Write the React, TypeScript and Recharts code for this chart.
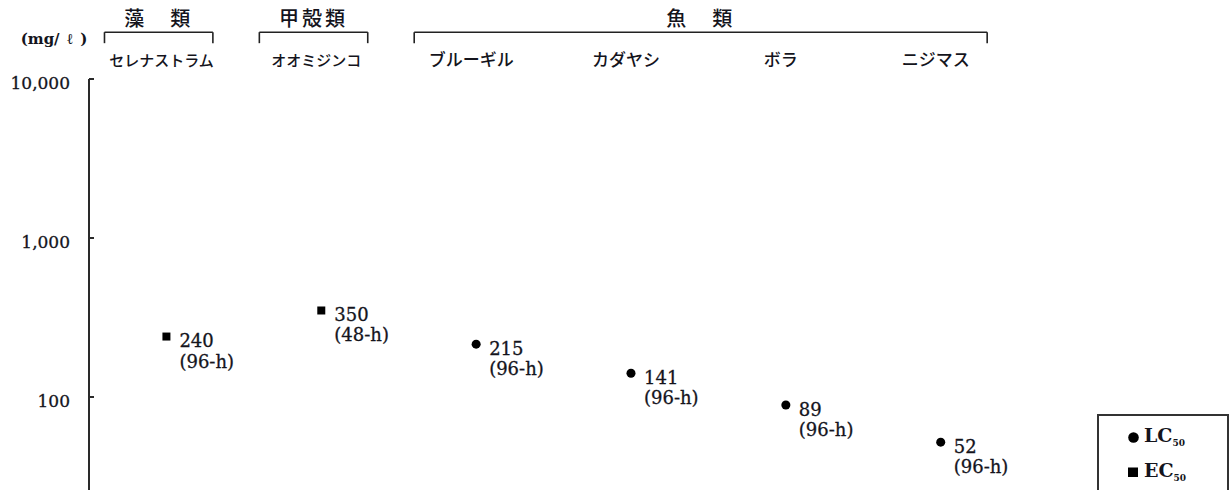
import React from 'react';
import { ScatterChart, Scatter, XAxis, YAxis, ZAxis, ReferenceLine, LabelList, Legend } from 'recharts';

// ---------- data ----------
const SPECIES = ['セレナストラム', 'オオミジンコ', 'ブルーギル', 'カダヤシ', 'ボラ', 'ニジマス'];
const VALUES = [240, 350, 215, 141, 89, 52];
const DURATIONS = ['96-h', '48-h', '96-h', '96-h', '96-h', '96-h'];
const ENDPOINTS = ['EC50', 'EC50', 'LC50', 'LC50', 'LC50', 'LC50'];
const GROUP_NAMES = ['藻　類', '甲殻類', '魚　類'];
const GROUP_FIRST = [1, 2, 3];
const GROUP_LAST = [1, 2, 6];
const Y_TICKS = [100, 1000, 10000];
const X_TICKS = [1, 2, 3, 4, 5, 6];
const SERIES = [
  { name: 'LC50', shape: 'circle' },
  { name: 'EC50', shape: 'square' },
];
const UNIT = '(mg/\u2002ℓ\u2002)';

const rows = SPECIES.map((s, i) => ({ x: i + 1, y: VALUES[i], dur: DURATIONS[i], endpoint: ENDPOINTS[i], species: s }));

// ---------- layout / style ----------
const W = 1229;
const H = 570;
const MARGIN = { top: 49, right: 56, bottom: 14, left: 0 };
const Y_AXIS_W = 89;
const X_AXIS_H = 30;
const AXIS_GAP = 19;
const BRACKET_LINE_Y = 19700; // data-space level of bracket lines above the plot
const BRACKET_END_Y = 16800;
const BRACKET_PAD_L = 0.4;
const BRACKET_PAD_R = 0.3;
const INK = '#14141c';
const SERIF = '"DejaVu Serif", serif';
const CJK = '"Noto Sans CJK JP", sans-serif';

const groupOf = (idx1: number) => GROUP_FIRST.findIndex((f, g) => idx1 >= f && idx1 <= GROUP_LAST[g]);

const YTick = (props: any) => {
  const { x, y, payload } = props;
  return (
    <g>
      <text x={x} y={y + 10} textAnchor="end" fontFamily={SERIF} fontSize={17} fill={INK} stroke={INK} strokeWidth={0.3}>
        {Number(payload.value).toLocaleString('en-US')}
      </text>
      <line x1={x + AXIS_GAP} x2={x + AXIS_GAP + 5} y1={y} y2={y} stroke="#2a2a2a" strokeWidth={2} />
    </g>
  );
};

const XTick = (props: any) => {
  const { x, y, payload } = props;
  const idx = Number(payload.value);
  const g = groupOf(idx);
  const fs = g === 2 ? 17 : 15;
  return (
    <text x={x - 5} y={y - 13} textAnchor="middle" fontFamily={CJK} fontSize={fs} fontWeight={500} fill={INK}>
      {SPECIES[idx - 1]}
    </text>
  );
};

const UnitLabel = (props: any) => {
  const vb = props.viewBox || { x: 0, y: 79 };
  return (
    <text x={vb.x + 54} y={vb.y - 35} textAnchor="middle" fontFamily={SERIF} fontWeight="bold" fontSize={15} fill={INK}>
      {UNIT}
    </text>
  );
};

const makePointLabel = (data: any[]) => (props: any) => {
  const d = data[props.index];
  if (!d) return null;
  const vb = props.viewBox || props;
  const cx = vb.width != null ? vb.x + vb.width / 2 : vb.x;
  const cy = vb.height != null ? vb.y + vb.height / 2 : vb.y;
  return (
    <g fontFamily={SERIF} fontSize={18} fill={INK} stroke={INK} strokeWidth={0.3}>
      <text x={cx + 13} y={cy + 10.5}>{String(d.y)}</text>
      <text x={cx + 13} y={cy + 31}>{`(${d.dur})`}</text>
    </g>
  );
};

const GroupLabel = (name: string) => (props: any) => {
  const vb = props.viewBox;
  if (!vb) return null;
  return (
    <text
      x={vb.x + vb.width / 2}
      y={vb.y - 6}
      textAnchor="middle"
      fontFamily={CJK}
      fontSize={20}
      fontWeight={500}
      letterSpacing={3}
      fill={INK}
    >
      {name}
    </text>
  );
};

const LegendBox = (props: any) => {
  const payload = [...(props.payload || [])].sort(
    (a: any, b: any) => SERIES.findIndex((s) => s.name === a.value) - SERIES.findIndex((s) => s.name === b.value)
  );
  return (
    <div style={{ position: 'relative', width: '100%', height: '100%' }}>
      {payload.map((p: any, i: number) => {
        const m = String(p.value).match(/^(\D+)(\d+)$/);
        const base = m ? m[1] : String(p.value);
        const sub = m ? m[2] : '';
        const shape = SERIES.find((s) => s.name === p.value)?.shape || p.type;
        return (
          <div
            key={String(p.value)}
            style={{ position: 'absolute', left: 28, top: 10 + i * 35, height: 22, display: 'flex', alignItems: 'center', gap: 4 }}
          >
            <svg width={13} height={13}>
              {shape === 'square' ? <rect x={1} y={1.5} width={10} height={9.5} fill="#000" /> : <circle cx={6.5} cy={6.5} r={5.3} fill="#000" />}
            </svg>
            <span style={{ fontFamily: SERIF, fontWeight: 'bold', fontSize: 19, color: INK, lineHeight: '22px', whiteSpace: 'nowrap' }}>
              {base}
              <sub style={{ fontSize: 9, verticalAlign: 'baseline', position: 'relative', top: 4 }}>{sub}</sub>
            </span>
          </div>
        );
      })}
    </div>
  );
};

export default function App() {
  const seriesData = SERIES.map((s) => rows.filter((r) => r.endpoint === s.name));
  const brackets = GROUP_NAMES.flatMap((name, g) => {
    const x1 = GROUP_FIRST[g] - BRACKET_PAD_L;
    const x2 = GROUP_LAST[g] + BRACKET_PAD_R;
    return [
      <ReferenceLine
        key={`h${g}`}
        ifOverflow="visible"
        stroke="#222"
        strokeWidth={1.6}
        segment={[{ x: x1, y: BRACKET_LINE_Y }, { x: x2, y: BRACKET_LINE_Y }]}
        label={GroupLabel(name)}
      />,
      <ReferenceLine
        key={`l${g}`}
        ifOverflow="visible"
        stroke="#222"
        strokeWidth={1.6}
        segment={[{ x: x1, y: BRACKET_LINE_Y }, { x: x1, y: BRACKET_END_Y }]}
      />,
      <ReferenceLine
        key={`r${g}`}
        ifOverflow="visible"
        stroke="#222"
        strokeWidth={1.6}
        segment={[{ x: x2, y: BRACKET_LINE_Y }, { x: x2, y: BRACKET_END_Y }]}
      />,
    ];
  });

  return (
    <div style={{ position: 'absolute', left: 0, top: 0, width: W, height: 490, overflow: 'hidden', background: '#fff' }}>
      <ScatterChart width={W} height={H} margin={MARGIN}>
        <XAxis
          type="number"
          dataKey="x"
          orientation="top"
          domain={[0.5, 7.5]}
          ticks={X_TICKS}
          interval={0}
          axisLine={false}
          tickLine={false}
          tickSize={0}
          tickMargin={0}
          height={X_AXIS_H}
          tick={<XTick />}
        />
        <YAxis
          type="number"
          dataKey="y"
          scale="log"
          domain={[10, 10000]}
          ticks={Y_TICKS}
          interval={0}
          width={Y_AXIS_W}
          axisLine={{ stroke: '#2a2a2a', strokeWidth: 2 }}
          tickLine={false}
          tickSize={0}
          tickMargin={AXIS_GAP}
          tick={<YTick />}
          allowDataOverflow
          label={UnitLabel}
        />
        <ZAxis range={[110, 110]} />
        {brackets}
        {SERIES.map((s, i) => (
          <Scatter
            key={s.name}
            name={s.name}
            data={seriesData[i]}
            fill="#000"
            shape={s.shape as any}
            legendType={s.shape as any}
            isAnimationActive={false}
          >
            <LabelList content={makePointLabel(seriesData[i])} />
          </Scatter>
        ))}
        <Legend
          layout="vertical"
          align="center"
          verticalAlign="middle"
          content={<LegendBox />}
          wrapperStyle={{
            left: 1097,
            top: 414,
            width: 132,
            height: 100,
            border: '2px solid #333',
            boxSizing: 'border-box',
            background: '#fff',
          }}
        />
      </ScatterChart>
    </div>
  );
}
